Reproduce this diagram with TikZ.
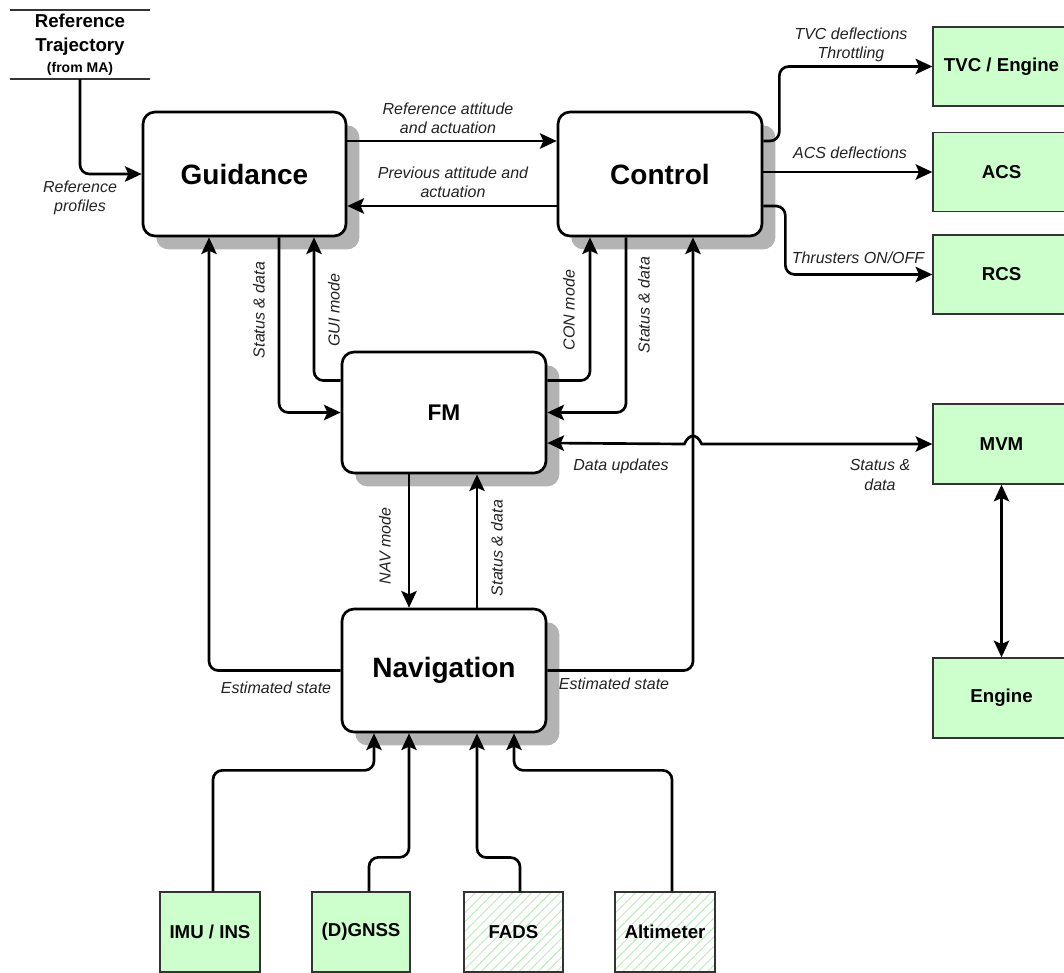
\documentclass[tikz,border=0pt]{standalone}
\usepackage{fontspec}
\setmainfont{Liberation Sans}
\usetikzlibrary{arrows.meta,calc,shadows,patterns.meta}
\definecolor{gfill}{HTML}{CCFFCC}
\definecolor{hatch}{HTML}{B8ECB8}
\definecolor{shade}{HTML}{B3B3B3}
\definecolor{lbl}{HTML}{222222}
\begin{document}
\begin{tikzpicture}[x=0.75pt,y=-0.75pt,
 blk/.style={draw=black, line width=2pt, rounded corners=9pt, fill=white, inner sep=0pt,
   drop shadow={shadow xshift=10pt, shadow yshift=-10pt, fill=shade, opacity=1}},
 big/.style={font=\fontsize{21}{24}\selectfont\bfseries},
 dev/.style={draw=black!80, line width=1pt, fill=gfill, minimum width=102.75pt, minimum height=59.25pt, inner sep=0pt, font=\fontsize{14}{17}\selectfont\bfseries},
 sens/.style={draw=black!80, line width=1pt, fill=gfill, minimum width=75pt, minimum height=60pt, inner sep=0pt, font=\fontsize{14}{17}\selectfont\bfseries},
 hatched/.style={preaction={fill=white}, pattern color=hatch, pattern={Lines[angle=45,distance=5pt,line width=0.7pt]}},
 tip/.tip={Stealth[length=12.5pt,width=11.5pt,inset=2.5pt]},
 conn/.style={line width=2pt, rounded corners=7pt, -tip},
 conn2/.style={line width=2pt, tip-tip},
 lab/.style={font=\fontsize{12}{14.5}\selectfont\itshape, text=lbl, inner sep=0pt, align=center},
]
\useasboundingbox (0,0) rectangle (1064,972);
\clip (0,0) rectangle (1064,972);

% main blocks
\node[blk, big, minimum width=152.25pt, minimum height=93pt] (guid) at (244.5,174) {Guidance};
\node[blk, big, minimum width=153pt, minimum height=93pt] (ctrl) at (660,174) {Control};
\node[blk, font=\fontsize{17}{20}\selectfont\bfseries, minimum width=153pt, minimum height=90.75pt] (fm) at (444,412.5) {FM};
\node[blk, big, minimum width=153pt, minimum height=92.25pt] (nav) at (444,670.5) {Navigation};

% reference trajectory
\node[minimum width=104.25pt, minimum height=51.75pt, inner sep=0pt, align=center,
  font=\fontsize{14}{18}\selectfont\bfseries] (ref) at (80,44.5)
  {Reference\\Trajectory\\[-2.5pt]{\fontsize{10.5}{12}\selectfont (from MA)}};
\draw[line width=1.6pt, black!80] (ref.north west) -- (ref.north east) (ref.south west) -- (ref.south east);

% actuators
\node[dev] (tvc) at (1001.5,66.5) {TVC / Engine};
\node[dev] (acs) at (1001.5,172) {ACS};
\node[dev] (rcs) at (1001.5,274.5) {RCS};
\node[dev, minimum height=60pt] (mvm) at (1001.5,444) {MVM};
\node[dev, minimum height=60pt] (eng) at (1001.5,698) {Engine};

% sensors
\node[sens] (imu) at (210,932) {IMU / INS};
\node[sens, minimum width=73.5pt] (gnss) at (361,932) {(D)GNSS};
\node[sens, hatched, minimum width=74.25pt] (fads) at (513.5,932) {FADS};
\node[sens, hatched] (alt) at (665,932) {Altimeter};

% reference -> guidance
\draw[conn] (ref.south) |- (guid.west);
\node[lab] (lrp) at (80,198) {Reference\\profiles};

% guidance <-> control
\draw[conn] ($(guid.east)+(0,-33)$) -- ($(ctrl.west)+(0,-33)$);
\node[lab] (lra) at (448,118) {Reference attitude\\and actuation};
\draw[conn] ($(ctrl.west)+(0,32)$) -- ($(guid.east)+(0,32)$);
\node[lab] (lpa) at (453,182) {Previous attitude and\\actuation};

% control -> actuators
\draw[conn] ($(ctrl.east)+(0,-33)$) -- ++(16,0) |- (tvc.west);
\node[lab] (ltvc) at (851,45) {TVC deflections\\Throttling};
\draw[conn] ($(ctrl.east)+(0,-2)$) -- (acs.west);
\node[lab] (lacs) at (850,153) {ACS deflections};
\draw[conn] ($(ctrl.east)+(0,32)$) -- ++(22,0) |- (rcs.west);
\node[lab] (lrcs) at (858,258) {Thrusters ON/OFF};

% guidance <-> FM
\draw[conn] ($(guid.south)+(34.5,0)$) |- (fm.west);
\node[lab, rotate=90] (lsd1) at (259,310) {Status \& data};
\draw[conn] ($(fm.west)+(0,-32)$) -| ($(guid.south)+(69.5,0)$);
\node[lab, rotate=90] (lgu) at (334,310) {GUI mode};

% control <-> FM
\draw[conn] ($(fm.east)+(0,-32)$) -| ($(ctrl.south)+(-70,0)$);
\node[lab, rotate=90] (lcon) at (569,310) {CON mode};
\draw[conn] ($(ctrl.south)+(-34,0)$) |- (fm.east);
\node[lab, rotate=90] (lsd2) at (644,305) {Status \& data};

% navigation -> guidance / control
\draw[conn] (nav.west) -| ($(guid.south)+(-35.5,0)$);
\node[lab] (les1) at (276,688) {Estimated state};
\path ($(ctrl.south)+(33,0)$) coordinate (vx);
\draw[conn] (nav.east) -| (vx);
\node[lab] (les2) at (614,684) {Estimated state};

% FM <-> MVM with line hop
\coordinate (hop) at (vx |- mvm.west);
\draw[conn2] ($(fm.east)+(0,30.5)$) -- ([xshift=-6.5pt]hop)
  .. controls ([xshift=-3pt,yshift=8pt]hop) and ([xshift=3pt,yshift=8pt]hop) .. ([xshift=6.5pt]hop) -- (mvm.west);
\node[lab] (ldu) at (621,466) {Data updates};
\node[lab] (lsd3) at (880,475) {Status \&\\data};

% MVM <-> Engine
\draw[conn2] (mvm.south) -- (eng.north);

% FM <-> navigation
\draw[conn] ($(fm.south)+(-35,0)$) -- ($(nav.north)+(-35,0)$);
\node[lab, rotate=90] (lnav) at (385,546) {NAV mode};
\draw[conn] ($(nav.north)+(33,0)$) -- ($(fm.south)+(33,0)$);
\node[lab, rotate=90] (lsd4) at (497,548) {Status \& data};

% sensors -> navigation
\draw[conn] ($(imu.north)+(3,0)$) -- ++(0,-121) -| ($(nav.south)+(-70,0)$);
\draw[conn] ($(gnss.north)+(8,0)$) -- ++(0,-34) -| ($(nav.south)+(-35,0)$);
\draw[conn] ($(fads.north)+(6.5,0)$) -- ++(0,-34) -| ($(nav.south)+(33,0)$);
\draw[conn] ($(alt.north)+(7,0)$) -- ++(0,-121) -| ($(nav.south)+(70,0)$);
\end{tikzpicture}
\end{document}
